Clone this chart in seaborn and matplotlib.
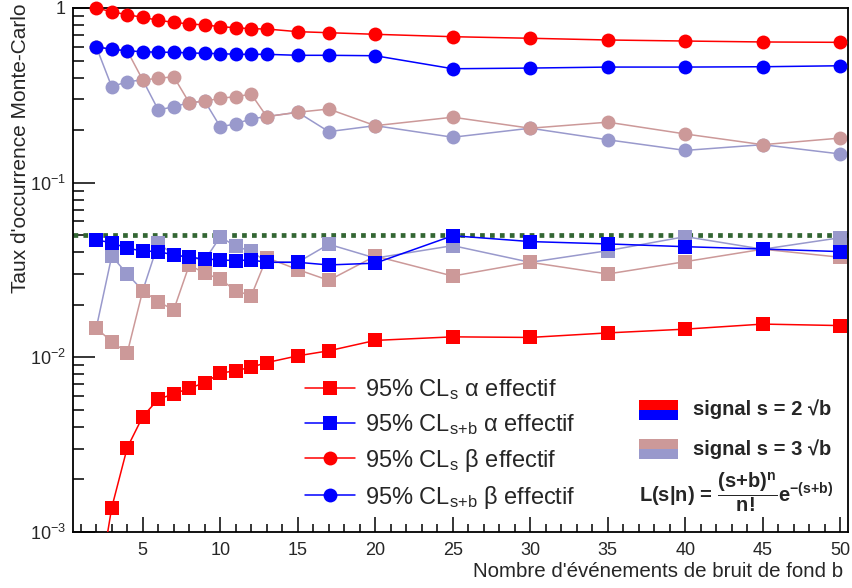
import numpy as np
import pandas as pd
import matplotlib
matplotlib.use("Agg")
import matplotlib.pyplot as plt
import seaborn as sns
from matplotlib.patches import Rectangle
from matplotlib.ticker import LogLocator, NullFormatter, MultipleLocator

# ---------------- data ----------------
b_values = [2, 3, 4, 5, 6, 7, 8, 9, 10, 11, 12, 13, 15, 17, 20, 25, 30, 35, 40, 45, 50]

# signal s = 2 sqrt(b)
s2_cls_alpha = [0.0004, 0.00138, 0.00304, 0.00458, 0.00576, 0.00617, 0.00665, 0.00716, 0.00811,
                0.00839, 0.00878, 0.00933, 0.0102, 0.0109, 0.0125, 0.0131, 0.0130, 0.0138,
                0.0145, 0.0155, 0.0152]
s2_clsb_alpha = [0.0470, 0.0453, 0.0421, 0.0407, 0.0403, 0.0386, 0.0374, 0.0366, 0.0361, 0.0358,
                 0.0361, 0.0350, 0.0350, 0.0338, 0.0346, 0.0497, 0.0460, 0.0446, 0.0430, 0.0417,
                 0.0403]
s2_cls_beta = [1.0, 0.952, 0.915, 0.885, 0.85, 0.828, 0.81, 0.80, 0.782, 0.771, 0.761, 0.758,
               0.732, 0.722, 0.707, 0.685, 0.671, 0.656, 0.647, 0.639, 0.636]
s2_clsb_beta = [0.60, 0.580, 0.569, 0.562, 0.558, 0.558, 0.553, 0.55, 0.548, 0.543, 0.543, 0.543,
                0.536, 0.536, 0.533, 0.449, 0.453, 0.459, 0.459, 0.461, 0.467]

# signal s = 3 sqrt(b)
s3_cls_alpha = [0.0147, 0.0123, 0.0106, 0.0241, 0.0208, 0.0187, 0.0338, 0.0303, 0.0280, 0.0241,
                0.0225, 0.0372, 0.0318, 0.0276, 0.0380, 0.0292, 0.0350, 0.0300, 0.0353, 0.0416,
                0.0374]
s3_clsb_alpha = [0.0147, 0.0380, 0.0300, 0.0241, 0.0450, 0.0386, 0.0374, 0.0360, 0.0490, 0.0432,
                 0.0405, 0.0352, 0.0350, 0.0444, 0.0370, 0.0436, 0.0350, 0.0408, 0.0491, 0.0416,
                 0.0484]
s3_cls_beta = [0.60, 0.580, 0.569, 0.387, 0.396, 0.404, 0.287, 0.293, 0.304, 0.311, 0.321, 0.239,
               0.253, 0.264, 0.212, 0.237, 0.205, 0.222, 0.190, 0.165, 0.180]
s3_clsb_beta = [0.60, 0.354, 0.379, 0.387, 0.261, 0.272, 0.287, 0.293, 0.209, 0.217, 0.232, 0.239,
                0.253, 0.196, 0.212, 0.182, 0.205, 0.176, 0.153, 0.165, 0.146]

seuil = 0.05

x_ticks = [5, 10, 15, 20, 25, 30, 35, 40, 45, 50]
x_tick_labels = ["5", "10", "15", "20", "25", "30", "35", "40", "45", "50"]
y_ticks = [1e-3, 1e-2, 1e-1, 1]
y_tick_labels = [r"10$^{\mathregular{-3}}$", r"10$^{\mathregular{-2}}$", r"10$^{\mathregular{-1}}$", "1"]

legend_labels = [r"95% CL$_{\mathregular{s}}$ α effectif",
                 r"95% CL$_{\mathregular{s{+}b}}$ α effectif",
                 r"95% CL$_{\mathregular{s}}$ β effectif",
                 r"95% CL$_{\mathregular{s{+}b}}$ β effectif"]

RED = "#ff0000"
BLUE = "#0000ff"
PINK = "#cc9999"
LBLUE = "#9999cc"
GREEN = "#336633"

# ---------------- style ----------------
sns.set_style("ticks")
plt.rcParams['font.family'] = ['Liberation Sans', 'DejaVu Sans']
plt.rcParams['mathtext.fontset'] = 'custom'
plt.rcParams['mathtext.rm'] = 'Liberation Sans'
plt.rcParams['mathtext.it'] = 'Liberation Sans:italic'
plt.rcParams['mathtext.bf'] = 'Liberation Sans:bold'
plt.rcParams['axes.unicode_minus'] = True

W, H = 852, 588
fig = plt.figure(figsize=(W / 100, H / 100), dpi=100)
ax = fig.add_axes([73 / W, 1 - 532 / H, 775 / W, 524 / H])

ax.axhline(seuil, color=GREEN, lw=3.4, dashes=(1.0, 1.1), zorder=1.5)


def draw(values, color, marker, ms, lw=1.1, clip=True, z=2):
    df = pd.DataFrame({"b": b_values, "taux": values})
    sns.lineplot(data=df, x="b", y="taux", color=color, marker=marker, markersize=ms,
                 markeredgewidth=0, linewidth=lw, ax=ax, clip_on=clip, zorder=z,
                 legend=False, estimator=None)
    return ax.lines[-1]


draw(s3_clsb_beta, LBLUE, "o", 10)
draw(s3_cls_beta, PINK, "o", 10)
draw(s3_clsb_alpha, LBLUE, "s", 9.5)
draw(s3_cls_alpha, PINK, "s", 9.5)
h_blue_sq = draw(s2_clsb_alpha, BLUE, "s", 9.5, z=3)
h_red_sq = draw(s2_cls_alpha, RED, "s", 9.5, z=3)
h_blue_ci = draw(s2_clsb_beta, BLUE, "o", 10, z=3)
h_red_ci = draw(s2_cls_beta, RED, "o", 10, clip=False, z=3)

ax.set_yscale("log")
ax.set_ylim(1e-3, 1)
ax.set_xlim(0.5, 50.5)
ax.set_yticks(y_ticks, labels=y_tick_labels)
ax.yaxis.set_minor_locator(LogLocator(base=10, subs=range(2, 10)))
ax.yaxis.set_minor_formatter(NullFormatter())
ax.set_xticks(x_ticks, labels=x_tick_labels)
ax.xaxis.set_minor_locator(MultipleLocator(1))

ax.tick_params(axis="y", which="major", direction="in", length=16, width=1.3, labelsize=13, pad=5)
ax.tick_params(axis="y", which="minor", direction="in", length=8, width=1.3)
ax.tick_params(axis="x", which="major", direction="in", length=11, width=1.3, labelsize=13, pad=7)
ax.tick_params(axis="x", which="minor", direction="in", length=5.5, width=1.3)
for sp in ax.spines.values():
    sp.set_linewidth(1.3)
    sp.set_color("black")

ax.set_xlabel("Nombre d'événements de bruit de fond b", fontsize=14.8, ha="right", va="top")
ax.xaxis.set_label_coords(0.9935, -0.058)
ax.set_ylabel("Taux d'occurrence Monte-Carlo", fontsize=15, ha="right", va="bottom")
ax.yaxis.set_label_coords(-0.056, 1.008)

leg = ax.legend([h_red_sq, h_blue_sq, h_red_ci, h_blue_ci], legend_labels,
                loc="upper left", bbox_to_anchor=(305 / W, 1 - 377 / H),
                bbox_transform=fig.transFigure, frameon=False, fontsize=17,
                handlelength=2.1, handletextpad=0.45, labelspacing=0.42,
                borderpad=0, borderaxespad=0, numpoints=1)

# signal legend boxes
for (y0, c_top, c_bot) in [(400, RED, BLUE), (439, PINK, LBLUE)]:
    fig.patches.append(Rectangle((639 / W, 1 - (y0 + 10) / H), 39 / W, 10 / H,
                                 transform=fig.transFigure, color=c_top, lw=0))
    fig.patches.append(Rectangle((639 / W, 1 - (y0 + 20) / H), 39 / W, 10 / H,
                                 transform=fig.transFigure, color=c_bot, lw=0))

fig.text(693 / W, 1 - 409 / H, "signal s = 2 √b", fontsize=14.5, fontweight="bold",
         ha="left", va="center")
fig.text(693 / W, 1 - 449 / H, "signal s = 3 √b", fontsize=14.5, fontweight="bold",
         ha="left", va="center")
fig.text(639 / W, 1 - 493 / H,
         r"$\mathbf{L(s|n)}\,\mathbf{{=}}\,\dfrac{\mathbf{(s{+}b)}^{\mathbf{n}}}{\mathbf{n!}}\mathbf{e}^{\mathbf{{-}(s{+}b)}}$",
         fontsize=14.5, ha="left", va="center")

fig.savefig("out.png", dpi=100)
